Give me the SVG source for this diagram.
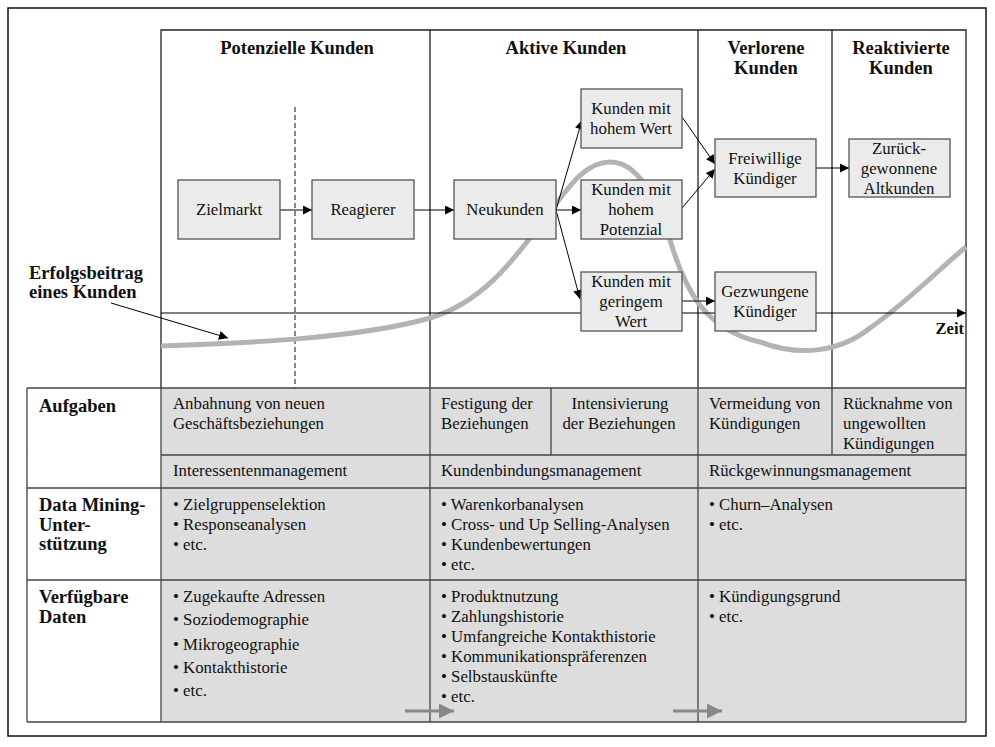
<svg xmlns="http://www.w3.org/2000/svg" width="995" height="747" viewBox="0 0 995 747">
<style>
text{font-family:"Liberation Serif","Times New Roman",serif;fill:#111;}
.b{font-weight:bold;font-size:18.5px;}
.r{font-size:16.8px;}
.m{text-anchor:middle;}
.box{fill:#ebebeb;stroke:#555;stroke-width:1.3;}
.grid{stroke:#222;stroke-width:1.3;fill:none;}
.tl{stroke:#444;stroke-width:1.3;fill:none;}
.con{stroke:#000;stroke-width:1;fill:none;marker-end:url(#ah);}
.garr{stroke:#888;stroke-width:2.8;fill:none;marker-end:url(#gh);}
</style>
<defs>
<marker id="ah" viewBox="0 0 10 10" refX="10" refY="5" markerWidth="11" markerHeight="9" markerUnits="userSpaceOnUse" orient="auto"><path d="M0,0 L10,5 L0,10 z" fill="#000"/></marker>
<marker id="gh" viewBox="0 0 10 10" refX="10" refY="5" markerWidth="16" markerHeight="15" markerUnits="userSpaceOnUse" orient="auto"><path d="M0,0 L10,5 L0,10 z" fill="#888"/></marker>
</defs>
<rect width="995" height="747" fill="#fff"/>
<rect x="8" y="8" width="978" height="728" fill="none" stroke="#111" stroke-width="1.5"/>

<!-- table background -->
<rect x="161" y="388" width="805" height="334" fill="#dddddd"/>

<!-- top section grid -->
<g id="phases">
<path class="grid" d="M161,388 V30 H966 V388 M430,30 V388 M698,30 V388 M832,30 V388"/>
<line x1="295" y1="107" x2="295" y2="388" stroke="#111" stroke-width="1" stroke-dasharray="5,3"/>
<text class="b m" x="297" y="54">Potenzielle Kunden</text>
<text class="b m" x="566" y="54">Aktive Kunden</text>
<text class="b m" x="766" y="54">Verlorene</text>
<text class="b m" x="766" y="73.5">Kunden</text>
<text class="b m" x="901" y="54">Reaktivierte</text>
<text class="b m" x="901" y="73.5">Kunden</text>
</g>

<!-- table grid -->
<g id="table">
<path class="tl" d="M27,388 H966 M161,455 H966 M27,488 H966 M27,580 H966 M27,722 H966 M27,388 V722 M161,388 V722 M430,388 V722 M698,388 V722 M966,388 V722 M551,388 V455 M832,388 V455"/>
<text class="b" x="39" y="412">Aufgaben</text>
<text class="b" x="39" y="511">Data Mining-</text>
<text class="b" x="39" y="530.5">Unter-</text>
<text class="b" x="39" y="550">stützung</text>
<text class="b" x="39" y="603">Verfügbare</text>
<text class="b" x="39" y="623">Daten</text>

<text class="r" x="173" y="409">Anbahnung von neuen</text>
<text class="r" x="173" y="429">Geschäftsbeziehungen</text>
<text class="r" x="441" y="409">Festigung der</text>
<text class="r" x="441" y="429">Beziehungen</text>
<text class="r m" x="620" y="409">Intensivierung</text>
<text class="r m" x="619" y="429">der Beziehungen</text>
<text class="r" x="709" y="409">Vermeidung von</text>
<text class="r" x="709" y="429">Kündigungen</text>
<text class="r" x="843" y="409">Rücknahme von</text>
<text class="r" x="843" y="429">ungewollten</text>
<text class="r" x="843" y="449">Kündigungen</text>

<text class="r" x="173" y="476">Interessentenmanagement</text>
<text class="r" x="441" y="476">Kundenbindungsmanagement</text>
<text class="r" x="709" y="476">Rückgewinnungsmanagement</text>

<text class="r" x="173" y="510">• Zielgruppenselektion</text>
<text class="r" x="173" y="530">• Responseanalysen</text>
<text class="r" x="173" y="550">• etc.</text>
<text class="r" x="441" y="510">• Warenkorbanalysen</text>
<text class="r" x="441" y="530">• Cross- und Up Selling-Analysen</text>
<text class="r" x="441" y="550">• Kundenbewertungen</text>
<text class="r" x="441" y="570">• etc.</text>
<text class="r" x="709" y="510">• Churn–Analysen</text>
<text class="r" x="709" y="530">• etc.</text>

<text class="r" x="173" y="602">• Zugekaufte Adressen</text>
<text class="r" x="173" y="625">• Soziodemographie</text>
<text class="r" x="173" y="650">• Mikrogeographie</text>
<text class="r" x="173" y="673">• Kontakthistorie</text>
<text class="r" x="173" y="696">• etc.</text>
<text class="r" x="441" y="602">• Produktnutzung</text>
<text class="r" x="441" y="622">• Zahlungshistorie</text>
<text class="r" x="441" y="642">• Umfangreiche Kontakthistorie</text>
<text class="r" x="441" y="662">• Kommunikationspräferenzen</text>
<text class="r" x="441" y="682">• Selbstauskünfte</text>
<text class="r" x="441" y="702">• etc.</text>
<text class="r" x="709" y="602">• Kündigungsgrund</text>
<text class="r" x="709" y="622">• etc.</text>
</g>

<!-- contribution curve -->
<g id="curve">
<path d="M161,346 C250,343 360,338 430,318 C480,303 510,265 540,225 C570,185 585,162 610,162 C640,162 655,200 670,240 C685,290 705,330 760,342 C800,357 840,352 870,328 C910,300 940,268 966,247" fill="none" stroke="#b3b3b3" stroke-width="5"/>
<text class="b" x="29" y="279">Erfolgsbeitrag</text>
<text class="b" x="29" y="298">eines Kunden</text>
<text class="b" x="964" y="334" style="text-anchor:end;font-size:16.5px">Zeit</text>
</g>

<g id="connectors">
<line class="con" x1="161" y1="313" x2="966" y2="313"/>
<line class="con" x1="111" y1="303" x2="228" y2="338"/>
<line class="con" x1="280" y1="210" x2="312" y2="210"/>
<line class="con" x1="414" y1="210" x2="454" y2="210"/>
<line class="con" x1="556" y1="210" x2="582" y2="120"/>
<line class="con" x1="556" y1="210" x2="581" y2="210"/>
<line class="con" x1="556" y1="210" x2="580" y2="299"/>
<line class="con" x1="682" y1="117" x2="715" y2="164"/>
<line class="con" x1="682" y1="208" x2="715" y2="169"/>
<line class="con" x1="682" y1="301" x2="715" y2="301"/>
<line class="con" x1="816" y1="168" x2="849" y2="168"/>
<line class="garr" x1="405" y1="711" x2="454" y2="711"/>
<line class="garr" x1="673" y1="711" x2="722" y2="711"/>
</g>

<g id="zielmarkt"><rect class="box" x="178" y="180" width="102" height="59"/><text class="r m" x="229" y="215">Zielmarkt</text></g>
<g id="reagierer"><rect class="box" x="312" y="180" width="102" height="59"/><text class="r m" x="363" y="215">Reagierer</text></g>
<g id="neukunden"><rect class="box" x="454" y="180" width="102" height="59"/><text class="r m" x="505" y="215">Neukunden</text></g>
<g id="hoher-wert"><rect class="box" x="581" y="89" width="101" height="59"/><text class="r m" x="631" y="114">Kunden mit</text><text class="r m" x="631" y="134">hohem Wert</text></g>
<g id="hohes-potenzial"><rect class="box" x="581" y="180" width="101" height="59"/><text class="r m" x="631" y="195">Kunden mit</text><text class="r m" x="631" y="215">hohem</text><text class="r m" x="631" y="235">Potenzial</text></g>
<g id="geringer-wert"><rect class="box" x="581" y="272" width="101" height="59"/><text class="r m" x="631" y="287">Kunden mit</text><text class="r m" x="631" y="307">geringem</text><text class="r m" x="631" y="327">Wert</text></g>
<g id="freiwillige"><rect class="box" x="715" y="139" width="101" height="58"/><text class="r m" x="765" y="163.5">Freiwillige</text><text class="r m" x="765" y="183.5">Kündiger</text></g>
<g id="gezwungene"><rect class="box" x="715" y="272" width="101" height="59"/><text class="r m" x="765" y="297">Gezwungene</text><text class="r m" x="765" y="317">Kündiger</text></g>
<g id="zurueckgewonnene"><rect class="box" x="849" y="139" width="101" height="58"/><text class="r m" x="899" y="153.5">Zurück-</text><text class="r m" x="899" y="173.5">gewonnene</text><text class="r m" x="899" y="193.5">Altkunden</text></g>
</svg>
